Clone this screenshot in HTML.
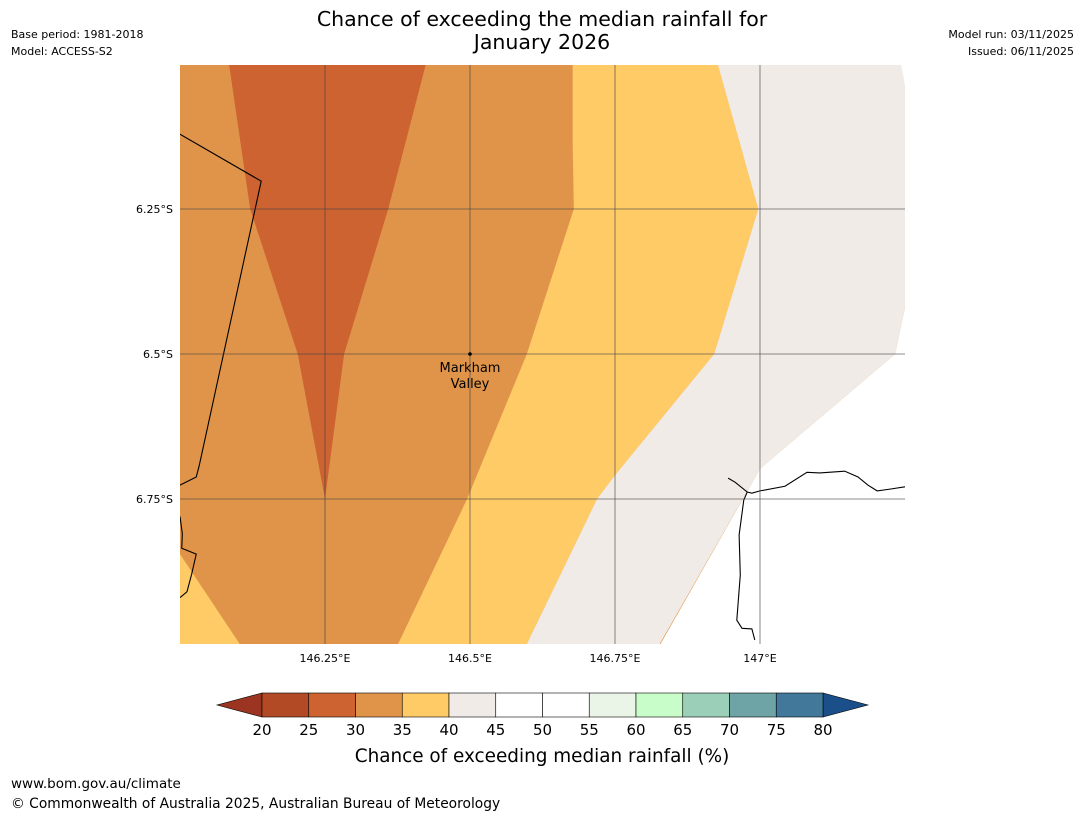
<!DOCTYPE html>
<html><head><meta charset="utf-8"><style>
body{margin:0;background:#fff;width:1085px;height:816px;overflow:hidden;font-family:"Liberation Sans","DejaVu Sans",sans-serif}
</style></head><body>
<svg id="s" width="1085" height="816" xmlns="http://www.w3.org/2000/svg" font-family="DejaVu Sans, Liberation Sans, sans-serif">
<text x="542" y="26" font-size="20.5" text-anchor="middle">Chance of exceeding the median rainfall for</text>
<text x="542" y="49" font-size="20.5" text-anchor="middle">January 2026</text>
<text x="11" y="38" font-size="11">Base period: 1981-2018</text>
<text x="11" y="55" font-size="11">Model: ACCESS-S2</text>
<text x="1074" y="38" font-size="11" text-anchor="end">Model run: 03/11/2025</text>
<text x="1074" y="55" font-size="11" text-anchor="end">Issued: 06/11/2025</text>
<g id="map"></g>
<g id="cbar"></g>
<text x="542" y="762" font-size="18.4" text-anchor="middle">Chance of exceeding median rainfall (%)</text>
<text x="11" y="788" font-size="13.5">www.bom.gov.au/climate</text>
<text x="11" y="808" font-size="13.8">© Commonwealth of Australia 2025, Australian Bureau of Meteorology</text>
</svg>
<script>
const lonTicks=[146.25,146.5,146.75,147];
const lonLabels=["146.25°E","146.5°E","146.75°E","147°E"];
const latTicks=[6.25,6.5,6.75];
const latLabels=["6.25°S","6.5°S","6.75°S"];
const cbLevels=[20,25,30,35,40,45,50,55,60,65,70,75,80];
const cbColors=["#b24a26","#cc6331","#e0944a","#fecb66","#f0ebe6","#ffffff","#ffffff","#eaf5e8","#c8fcc8","#9bcfb8","#6ea4a6","#42799a"];
const cbExtLow="#9b3521", cbExtHigh="#1b4f8a";
const band2530=[[146.0845,6.0],[146.424,6.0],[146.359,6.25],[146.283,6.5],[146.25,6.75],[146.203,6.5],[146.121,6.25]];
const band3540=[[146.677,6.0],[146.927,6.0],[146.997,6.25],[146.921,6.5],[146.75,6.709],[146.719,6.75],[146.598,7.0],[146.376,7.0],[146.495,6.75],[146.598,6.5],[146.679,6.25],[146.677,6.134]];
const band3540b=[[146.0,6.845],[146.103,7.0],[146.0,7.0]];
const band4045=[[146.927,6.0],[147.243,6.0],[147.253,6.052],[147.253,6.405],[147.233,6.5],[147.0,6.698],[146.827,7.0],[146.598,7.0],[146.719,6.75],[146.75,6.709],[146.921,6.5],[146.997,6.25]];
const border=[[146.0,6.121],[146.14,6.202],[146.033,6.693],[146.028,6.712],[146.0,6.726]];
const coast=[[146.945,6.714],[146.957,6.721],[146.978,6.738],[146.986,6.740],[147.0,6.736],[147.043,6.728],[147.081,6.704],[147.103,6.705],[147.146,6.702],[147.169,6.712],[147.186,6.726],[147.202,6.736],[147.224,6.733],[147.25,6.729]];
const coastS=[[146.978,6.738],[146.972,6.752],[146.964,6.812],[146.966,6.881],[146.960,6.959],[146.969,6.973],[146.986,6.974],[146.991,6.993]];
const X=lon=>325+(lon-146.25)*580, Y=lat=>209+(lat-6.25)*580;
const NS="http://www.w3.org/2000/svg";
function mk(p,t,a){const e=document.createElementNS(NS,t);for(const k in a)e.setAttribute(k,a[k]);p.appendChild(e);return e;}
const m=document.getElementById('map');
const cp=mk(m,'clipPath',{id:'mc'});mk(cp,'rect',{x:180,y:65,width:725,height:579});
const g=mk(m,'g',{'clip-path':'url(#mc)'});
let bg=mk(g,'rect',{x:180,y:65,width:725,height:580,fill:'#e0944a'});


function poly(pts,fill,name){const e=mk(g,'polygon',{points:pts.map(p=>X(p[0])+','+Y(p[1])).join(' '),fill:fill});

}
poly([[147.0,6.0],[147.3,6.0],[147.3,7.05],[146.8,7.05],[147.0,6.698],[147.233,6.5],[147.253,6.405]],'#ffffff','no-data-white');
poly(band2530,'#cc6331','band-25-30');
poly(band3540,'#fecb66','band-35-40');
poly(band3540b,'#fecb66','band-35-40-corner');
poly(band4045,'#f0ebe6','band-40-45');
function line(pts,name){const e=mk(g,'polyline',{points:pts.map(p=>X(p[0])+','+Y(p[1])).join(' '),fill:'none',stroke:'#000','stroke-width':1.1});

}
line(border,'province-border');line(coast,'coastline-north');line(coastS,'coastline-south');
line([[146.0,6.78],[146.004,6.81],[146.003,6.835],[146.028,6.845],[146.02,6.88],[146.012,6.91],[146.0,6.92]],'coastline-west');
lonTicks.forEach((v,i)=>{mk(g,'line',{x1:X(v),x2:X(v),y1:65,y2:645,stroke:'#444','stroke-width':0.8,'stroke-opacity':0.8});
const t=mk(m,'text',{x:X(v),y:662,'font-size':11,'text-anchor':'middle'});t.textContent=lonLabels[i];

});
latTicks.forEach((v,i)=>{mk(g,'line',{x1:180,x2:905,y1:Y(v),y2:Y(v),stroke:'#444','stroke-width':0.8,'stroke-opacity':0.8});
const t=mk(m,'text',{x:173,y:Y(v)+4,'font-size':11,'text-anchor':'end'});t.textContent=latLabels[i];

});
const dot=mk(m,'circle',{cx:X(146.5),cy:Y(6.5),r:1.8,fill:'#000'});


[["Markham",372],["Valley",388]].forEach(a=>{const t=mk(m,'text',{x:X(146.5),y:a[1],'font-size':13,'text-anchor':'middle'});t.textContent=a[0];

});
const cb=document.getElementById('cbar');
const CX=v=>262+(v-20)*(561/60), cy0=693, cy1=717;
const lo=mk(cb,'polygon',{points:`${CX(20)},${cy0} ${CX(20)},${cy1} 217,705`,fill:cbExtLow,stroke:'#000','stroke-width':0.6});


const hi=mk(cb,'polygon',{points:`${CX(80)},${cy0} ${CX(80)},${cy1} 868,705`,fill:cbExtHigh,stroke:'#000','stroke-width':0.6});


cbColors.forEach((c,i)=>{const r=mk(cb,'rect',{x:CX(cbLevels[i]),y:cy0,width:CX(cbLevels[i+1])-CX(cbLevels[i]),height:cy1-cy0,fill:c,stroke:'#000','stroke-width':0.6});

});
cbLevels.forEach(v=>{const t=mk(cb,'text',{x:CX(v),y:735,'font-size':15,'text-anchor':'middle'});t.textContent=v;

});
</script>
</body></html>
